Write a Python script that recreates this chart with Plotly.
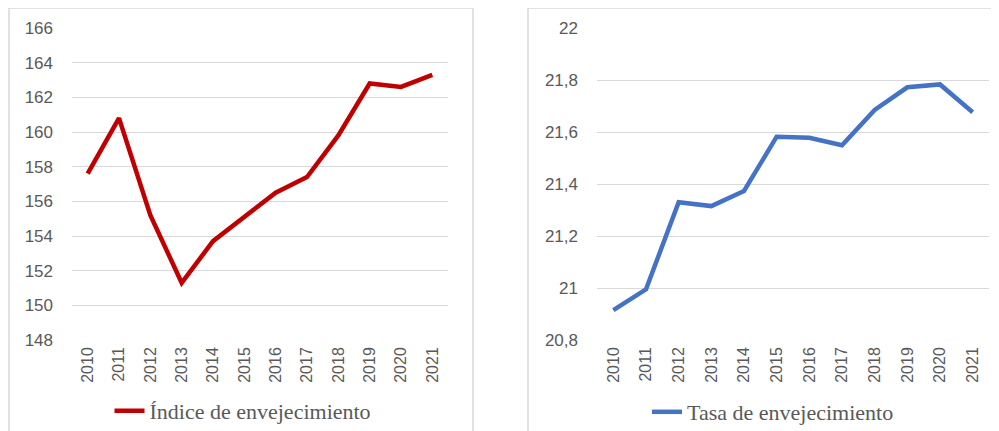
import plotly.graph_objects as go
from plotly.subplots import make_subplots

# Índice y tasa de envejecimiento, 2010-2021

years = [str(y) for y in range(2010, 2022)]
indice = [157.6, 160.8, 155.2, 151.3, 153.7, 155.1, 156.5, 157.4, 159.8, 162.8, 162.6, 163.3]
tasa = [20.915, 20.995, 21.33, 21.315, 21.373, 21.582, 21.578, 21.549, 21.685, 21.772, 21.783, 21.676]

W, H = 999, 431
OFF = 8  # margen por defecto del body de la página
GRID = '#d9d9d9'
YTICK_FONT = dict(family='Liberation Sans', size=17, color='#595959')
XTICK_FONT = dict(family='Liberation Sans', size=16, color='#595959')
LEGEND_FONT = dict(family='Liberation Serif', size=22, color='#595959')


def px_x(v):
    return (v - OFF) / W


def px_y(v):
    return 1 - (v - OFF) / H


fig = make_subplots(rows=1, cols=2)

fig.add_trace(go.Scatter(
    x=years, y=indice, mode='lines', name='Índice de envejecimiento',
    line=dict(color='#C00000', width=4.5), legend='legend'
), row=1, col=1)

fig.add_trace(go.Scatter(
    x=years, y=tasa, mode='lines', name='Tasa de envejecimiento',
    line=dict(color='#4472C4', width=4.5), legend='legend2'
), row=1, col=2)

xcommon = dict(
    type='category', range=[-0.5, len(years) - 0.5], showgrid=False, showline=False,
    zeroline=False, tickangle=-90, tickfont=XTICK_FONT, ticks='', automargin=False,
    ticklabelstandoff=3,
)
ycommon = dict(
    showgrid=True, gridcolor=GRID, gridwidth=1, zeroline=False, showline=False,
    tickfont=YTICK_FONT, ticks='', ticklabelstandoff=18, automargin=False,
)

fig.update_xaxes(domain=[px_x(72), px_x(448)], **xcommon, row=1, col=1)
fig.update_xaxes(domain=[px_x(597), px_x(989)], **xcommon, row=1, col=2)
fig.update_yaxes(domain=[px_y(340), px_y(28)], range=[148, 166], dtick=2, **ycommon, row=1, col=1)
fig.update_yaxes(domain=[px_y(340), px_y(28)], range=[20.8, 22], dtick=0.2, **ycommon, row=1, col=2)

# marcos de cada gráfico
for x0, x1 in [(9, 473), (528, 1010)]:
    fig.add_shape(type='rect', xref='paper', yref='paper',
                  x0=px_x(x0), x1=px_x(x1), y0=-0.05, y1=px_y(8),
                  line=dict(color=GRID, width=1.5), layer='below')

fig.update_layout(
    width=W, height=H,
    margin=dict(l=0, r=0, t=0, b=0),
    separators=',.',
    plot_bgcolor='white', paper_bgcolor='white',
    showlegend=True,
    legend=dict(x=px_x(243), y=px_y(411), xanchor='center', yanchor='middle',
                font=LEGEND_FONT, bgcolor='rgba(0,0,0,0)'),
    legend2=dict(x=px_x(773), y=px_y(412), xanchor='center', yanchor='middle',
                 font=LEGEND_FONT, bgcolor='rgba(0,0,0,0)'),
)

fig.write_html('out.html')
